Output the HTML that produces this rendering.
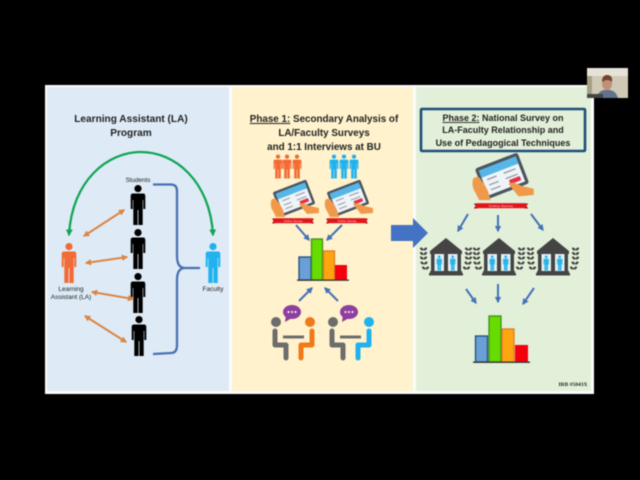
<!DOCTYPE html>
<html><head><meta charset="utf-8"><style>
html,body{margin:0;padding:0;background:#000;width:640px;height:480px;overflow:hidden}
svg{display:block;filter:blur(.4px)}
text{font-family:"Liberation Sans",sans-serif;fill:#222}
.t{font-weight:bold;text-anchor:middle}
</style></head><body>
<svg width="640" height="480" viewBox="0 0 640 480" xmlns="http://www.w3.org/2000/svg">
<defs>
<symbol id="p" viewBox="-10 0 20 40" overflow="visible">
<circle cx="0" cy="3.6" r="3.6"/>
<path d="M-5 8.500H5Q7.300 8.500 7.300 11V24H5.300V15H4.700V40H.4V25H-.4V40H-4.700V15H-5.300V24H-7.300V11Q-7.300 8.500-5 8.500Z"/>
</symbol>
<marker id="ao" viewBox="0 0 10 10" refX="8" refY="5" markerWidth="3.200" markerHeight="3.200" orient="auto-start-reverse"><path d="M0 0L10 5L0 10Z" fill="#dc8543"/></marker>
<marker id="ab" viewBox="0 0 10 10" refX="8" refY="5" markerWidth="3.200" markerHeight="3.200" orient="auto"><path d="M0 0L10 5L0 10Z" fill="#4472b8"/></marker>
<marker id="ag" viewBox="0 0 10 10" refX="8" refY="5" markerWidth="3" markerHeight="3" orient="auto-start-reverse"><path d="M0 0L10 5L0 10Z" fill="#12a555"/></marker>
<g id="tab">
<g transform="rotate(-21)">
<rect x="-18" y="-13" width="36" height="26" rx="2" fill="#4a5560"/>
<rect x="-15.500" y="-10.500" width="31" height="21" fill="#eef4f8"/>
<rect x="-15.500" y="-10.500" width="31" height="6" fill="#55b6e8"/>
<path d="M-12-1.500H-4M2-1.500H12M-12 3H-4M2 3H12M-12 7H-4" stroke="#9a9fa6" stroke-width="1.100"/>
<rect x="4" y="5" width="9" height="3.500" fill="#e3304a"/>
</g>
<path d="M-23 3Q-24 9-21 13L-18 19H-9L-11 12L-13 8L-18 1Q-22 0-23 3Z" fill="#f1994a"/>
<path d="M25 15L13 16L5 6L9 5L16 8L25 10Z" fill="#f1994a"/>
</g>
<g id="rib">
<path d="M-21-2.500H-18V2.500H-21L-19.500 0Z" fill="#b81212"/>
<path d="M21-2.500H18V2.500H21L19.500 0Z" fill="#b81212"/>
<rect x="-19" y="-2.800" width="38" height="5" fill="#e0161c"/>
<text x="0" y="1" text-anchor="middle" style="font-size:3px;fill:#ffd9d9">Online Survey</text>
</g>
<g id="chartA">
<rect x="0" y="18" width="12" height="23" fill="#6a9fd8" stroke="#1f4e79" stroke-width="1.300"/>
<rect x="12.500" y="0" width="11" height="41" fill="#66dc00" stroke="#3f8f1a" stroke-width="1.300"/>
<rect x="24.500" y="12" width="11" height="29" fill="#ffa50f" stroke="#de7d28" stroke-width="1.300"/>
<rect x="36" y="26" width="12" height="15" fill="#f4000f"/>
<rect x="-2" y="40.500" width="52" height="1.300" fill="#333"/>
</g>
<g id="leaf" fill="#444">
<ellipse cx="-1.800" cy="0" rx="2" ry="1.200" transform="rotate(40 -1.800 0)"/>
<ellipse cx="1.800" cy="0" rx="2" ry="1.200" transform="rotate(-40 1.800 0)"/>
</g>
<g id="bld">
<use href="#leaf" x="-22.500" y="11"/><use href="#leaf" x="-22.500" y="15.500"/><use href="#leaf" x="-22.500" y="20"/><use href="#leaf" x="-22" y="25"/><use href="#leaf" x="-20.500" y="30"/>
<use href="#leaf" x="22.500" y="11"/><use href="#leaf" x="22.500" y="15.500"/><use href="#leaf" x="22.500" y="20"/><use href="#leaf" x="22" y="25"/><use href="#leaf" x="20.500" y="30"/>
<g fill="#444">
<path d="M0 0L16 13H-16Z"/>
<rect x="-16" y="13" width="32" height="3"/>
<rect x="-15" y="16" width="3.500" height="17"/><rect x="-2" y="16" width="4" height="17"/><rect x="11.500" y="16" width="3.500" height="17"/>
<rect x="-16" y="33" width="32" height="2"/><rect x="-17" y="35" width="34" height="2.500"/>
</g>
<rect x="-11.500" y="16" width="9.500" height="17" fill="#e4eef2"/>
<rect x="2" y="16" width="9.500" height="17" fill="#e4eef2"/>
<use href="#p" x="-11.500" y="17.500" width="9.500" height="15" fill="#22b4ea"/>
<use href="#p" x="2" y="17.500" width="9.500" height="15" fill="#22b4ea"/>
</g>
<g id="meet">
<circle cx="0" cy="0" r="5" fill="#6d6d6d"/>
<path d="M-1 9V23H10V36" fill="none" stroke="#6d6d6d" stroke-width="5" stroke-linecap="round" stroke-linejoin="round"/>
<rect x="7" y="13.500" width="21" height="3" fill="#6d6d6d"/>
</g>
<g id="bub">
<ellipse cx="0" cy="0" rx="9" ry="7" fill="#8e3f9e"/>
<path d="M-6 3L-7 10L0 6Z" fill="#8e3f9e"/>
<circle cx="-3.500" cy="0" r="1.100" fill="#f2e6f5"/><circle cx="0" cy="0" r="1.100" fill="#f2e6f5"/><circle cx="3.500" cy="0" r="1.100" fill="#f2e6f5"/>
</g>
</defs>

<rect width="640" height="480" fill="#000"/>
<!-- slide -->
<rect x="45" y="85" width="549" height="309" fill="#fbfbfb"/>
<rect x="47" y="87" width="182" height="304" fill="#deebf7"/>
<rect x="232" y="87" width="181" height="304" fill="#fff2cc"/>
<rect x="416" y="87" width="175" height="304" fill="#e2f0d9"/>

<!-- webcam -->
<rect x="587" y="68" width="41" height="30" fill="#cfc9b6"/>
<rect x="587" y="68" width="41" height="8" fill="#e6e2d8"/>
<rect x="587" y="76" width="5" height="22" fill="#a59f83"/>
<ellipse cx="607" cy="84" rx="5" ry="6" fill="#c08f76"/>
<path d="M602 82Q602 75 607 75Q613 75 612 82Q608 78 602 82Z" fill="#72442d"/>
<path d="M597 98Q598 91 604 90H610Q616 91 618 98Z" fill="#62728a"/>
<rect x="587" y="94" width="16" height="4" fill="#444"/>

<!-- Panel 1 -->
<text class="t" x="131" y="122" style="font-size:10.100px">Learning Assistant (LA)</text>
<text class="t" x="131" y="136" style="font-size:10.100px">Program</text>
<path d="M69 235C72 180 108 152 141 152C174 152 210 180 213 235" fill="none" stroke="#12a555" stroke-width="2.300" marker-start="url(#ag)" marker-end="url(#ag)"/>
<text x="138" y="182" text-anchor="middle" style="font-size:6.300px">Students</text>
<path d="M153 184.500H171Q177 184.500 177 191V256Q177 268 185 268H200H185Q177 268 177 280V345Q177 353 171 353L153 354" fill="none" stroke="#4a70b4" stroke-width="2.300"/>
<use href="#p" x="128" y="185" width="20" height="40" fill="#000"/>
<use href="#p" x="128" y="229" width="20" height="40" fill="#000"/>
<use href="#p" x="128" y="273" width="20" height="40" fill="#000"/>
<use href="#p" x="129" y="316" width="20" height="40" fill="#000"/>
<use href="#p" x="59" y="243" width="20" height="40" fill="#f26b35"/>
<use href="#p" x="203" y="243" width="20" height="40" fill="#20b2ee"/>
<g stroke="#dc8543" stroke-width="2" fill="none">
<path d="M84 236L124 210" marker-start="url(#ao)" marker-end="url(#ao)"/>
<path d="M86 263L127 257" marker-start="url(#ao)" marker-end="url(#ao)"/>
<path d="M92 292L133 299" marker-start="url(#ao)" marker-end="url(#ao)"/>
<path d="M85 316L126 342" marker-start="url(#ao)" marker-end="url(#ao)"/>
</g>
<text x="71" y="291" text-anchor="middle" style="font-size:6.500px">Learning</text>
<text x="71" y="299" text-anchor="middle" style="font-size:6.500px">Assistant (LA)</text>
<text x="213" y="291" text-anchor="middle" style="font-size:6.500px">Faculty</text>

<!-- Panel 2 -->
<text class="t" x="324" y="122" style="font-size:9.850px"><tspan text-decoration="underline">Phase 1:</tspan> Secondary Analysis of</text>
<text class="t" x="324" y="136" style="font-size:9.850px">LA/Faculty Surveys</text>
<text class="t" x="324" y="150" style="font-size:9.850px">and 1:1 Interviews at BU</text>
<use href="#p" x="271.500" y="154.500" width="13" height="24" fill="#f26b35"/>
<use href="#p" x="280.500" y="154.500" width="13" height="24" fill="#f26b35"/>
<use href="#p" x="290.500" y="154.500" width="13" height="24" fill="#f26b35"/>
<use href="#p" x="327.500" y="154.500" width="13" height="24" fill="#20b2ee"/>
<use href="#p" x="337.500" y="154.500" width="13" height="24" fill="#20b2ee"/>
<use href="#p" x="347.500" y="154.500" width="13" height="24" fill="#20b2ee"/>
<use href="#tab" x="294" y="198"/>
<use href="#tab" x="348" y="198"/>
<use href="#rib" x="293" y="221"/>
<use href="#rib" x="347" y="221"/>
<g stroke="#4472b8" stroke-width="2" fill="none">
<path d="M296 225L309 240" marker-end="url(#ab)"/>
<path d="M342 225L327 240" marker-end="url(#ab)"/>
<path d="M299 301L312 288" marker-end="url(#ab)"/>
<path d="M338 301L325 288" marker-end="url(#ab)"/>
</g>
<use href="#chartA" x="299" y="239"/>
<use href="#meet" x="276" y="322"/>
<use href="#meet" x="333" y="322"/>
<use href="#bub" x="292" y="312"/>
<use href="#bub" x="349" y="312"/>
<circle cx="310" cy="322" r="5" fill="#f07a1a"/>
<path d="M312 331V345H301V358" fill="none" stroke="#f07a1a" stroke-width="5" stroke-linecap="round" stroke-linejoin="round"/>
<circle cx="369" cy="322" r="5" fill="#20b2ee"/>
<path d="M369 331V345H358V358" fill="none" stroke="#20b2ee" stroke-width="5" stroke-linecap="round" stroke-linejoin="round"/>

<!-- big arrow -->
<path d="M391 225H413V218L428 233L413 248V241H391Z" fill="#4472c4"/>

<!-- Panel 3 -->
<rect x="421" y="109" width="164" height="42" rx="1" fill="#e2f0d9" stroke="#1f4e79" stroke-width="2.600"/>
<text x="503" y="121" text-anchor="middle" style="font-size:9px;font-weight:bold"><tspan text-decoration="underline">Phase 2:</tspan> National Survey on</text>
<text x="503" y="133" text-anchor="middle" style="font-size:9px;font-weight:bold">LA-Faculty Relationship and</text>
<text x="503" y="146" text-anchor="middle" style="font-size:9px;font-weight:bold">Use of Pedagogical Techniques</text>
<g transform="translate(502 176) scale(1.270)"><use href="#tab"/></g>
<g transform="translate(501 206) scale(1.300 1)"><use href="#rib"/></g>
<g stroke="#4472b8" stroke-width="2" fill="none">
<path d="M468 214L458 231" marker-end="url(#ab)"/>
<path d="M498 215V231" marker-end="url(#ab)"/>
<path d="M531 214L543 230" marker-end="url(#ab)"/>
<path d="M466 289L476 303" marker-end="url(#ab)"/>
<path d="M498 284V302" marker-end="url(#ab)"/>
<path d="M534 288L523 304" marker-end="url(#ab)"/>
</g>
<use href="#bld" x="446" y="238"/>
<use href="#bld" x="499" y="238"/>
<use href="#bld" x="553" y="238"/>
<rect x="475.500" y="336" width="12" height="26" fill="#6a9fd8" stroke="#1f4e79" stroke-width="1.300"/>
<rect x="489" y="316" width="12" height="46" fill="#66dc00" stroke="#3f8f1a" stroke-width="1.300"/>
<rect x="502" y="329" width="12" height="33" fill="#ffa50f" stroke="#de7d28" stroke-width="1.300"/>
<rect x="515" y="345" width="13" height="17" fill="#f4000f"/>
<rect x="473" y="361.500" width="57" height="1.400" fill="#333"/>
<text x="573" y="386" text-anchor="middle" style="font-size:5.500px;font-family:'Liberation Serif',serif;font-weight:bold">IRB #5043X</text>
</svg>
</body></html>
